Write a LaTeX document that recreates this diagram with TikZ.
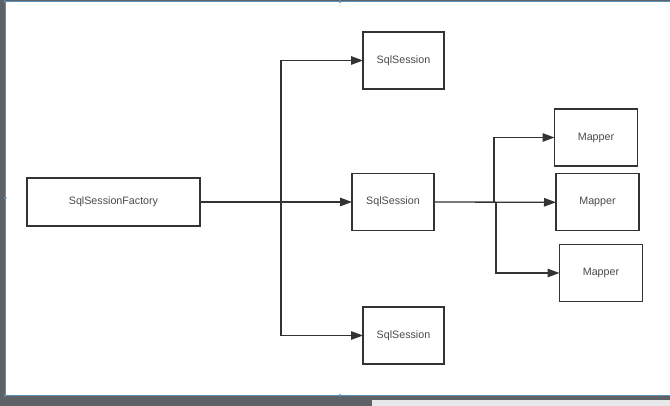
\documentclass[tikz,border=0pt]{standalone}
\usepackage{fontspec}
\setmainfont{Liberation Sans}
\usetikzlibrary{arrows.meta}

\definecolor{frame}{HTML}{5E6266}
\definecolor{edge}{HTML}{5A90B8}
\definecolor{ink}{HTML}{333333}
\definecolor{label}{HTML}{4A4A4A}
\definecolor{bar}{HTML}{E6E8EA}

\tikzset{
  box/.style={draw=ink, line width=1.4pt, fill=white, inner sep=0pt, outer sep=0pt,
    font=\fontsize{10.7}{12}\selectfont, text=label},
  link/.style={draw=ink, line width=1.3pt},
  arrowlink/.style={link, -{Triangle[length=12pt, width=8.5pt]}},
  handle/.style={fill=edge, draw=none}
}

\begin{document}
\begin{tikzpicture}[x=1pt, y=-1pt]
            \useasboundingbox (0, 0) rectangle (670, 406);
            \fill[white] (0, 0) rectangle (670, 406);
            \fill[frame] (0, 0) rectangle (670, 1);
            \fill[frame] (0, 0) rectangle (4.5, 406);
            \fill[frame] (0, 396) rectangle (670, 406);
            \fill[bar] (372, 399.5) rectangle (670, 406);
            \draw[edge, line width=1.2pt] (5.2, 395.4)--(5.2, 1.6)--(670, 1.6);
            \draw[edge, line width=1.2pt] (5.2, 395.4)--(670, 395.4);
            \fill[handle] (5.2, 1.6) circle (1.6);
            \fill[handle] (340, 1.6) circle (1.6);
            \fill[handle] (5.2, 198) circle (1.6);
            \fill[handle] (5.2, 395.4) circle (1.6);
            \fill[handle] (340, 395.4) circle (1.6);

            \node[box, minimum width=173pt, minimum height=48pt] (factory) at (113.5, 202) {SqlSessionFactory};
            \node[box, minimum width=81pt, minimum height=57pt] (sessionTop) at (403.5, 60.5) {SqlSession};
            \node[box, minimum width=82pt, minimum height=57pt] (sessionMid) at (393, 202) {SqlSession};
            \node[box, minimum width=81pt, minimum height=57pt] (sessionBot) at (403.5, 335.5) {SqlSession};
            \node[box, minimum width=83pt, minimum height=57pt] (mapperA) at (596, 137.5) {Mapper};
            \node[box, minimum width=83pt, minimum height=57pt] (mapperB) at (597.5, 202.3) {Mapper};
            \node[box, minimum width=83pt, minimum height=57pt] (mapperC) at (601, 273) {Mapper};

            \coordinate (split) at (281, 202);
            \coordinate (fork) at (494, 202);
            \coordinate (forkLow) at (496, 202);

            \draw[arrowlink] (factory.east)--(sessionMid.west);
            \draw[arrowlink] (split)|-(sessionTop.west);
            \draw[arrowlink] (split)|-(sessionBot.west);
            \draw[arrowlink] (sessionMid.east)--(mapperB.west);
            \draw[arrowlink] (fork)|-(mapperA.west);
            \draw[arrowlink] (forkLow)|-(mapperC.west);
        \end{tikzpicture}
\end{document}
